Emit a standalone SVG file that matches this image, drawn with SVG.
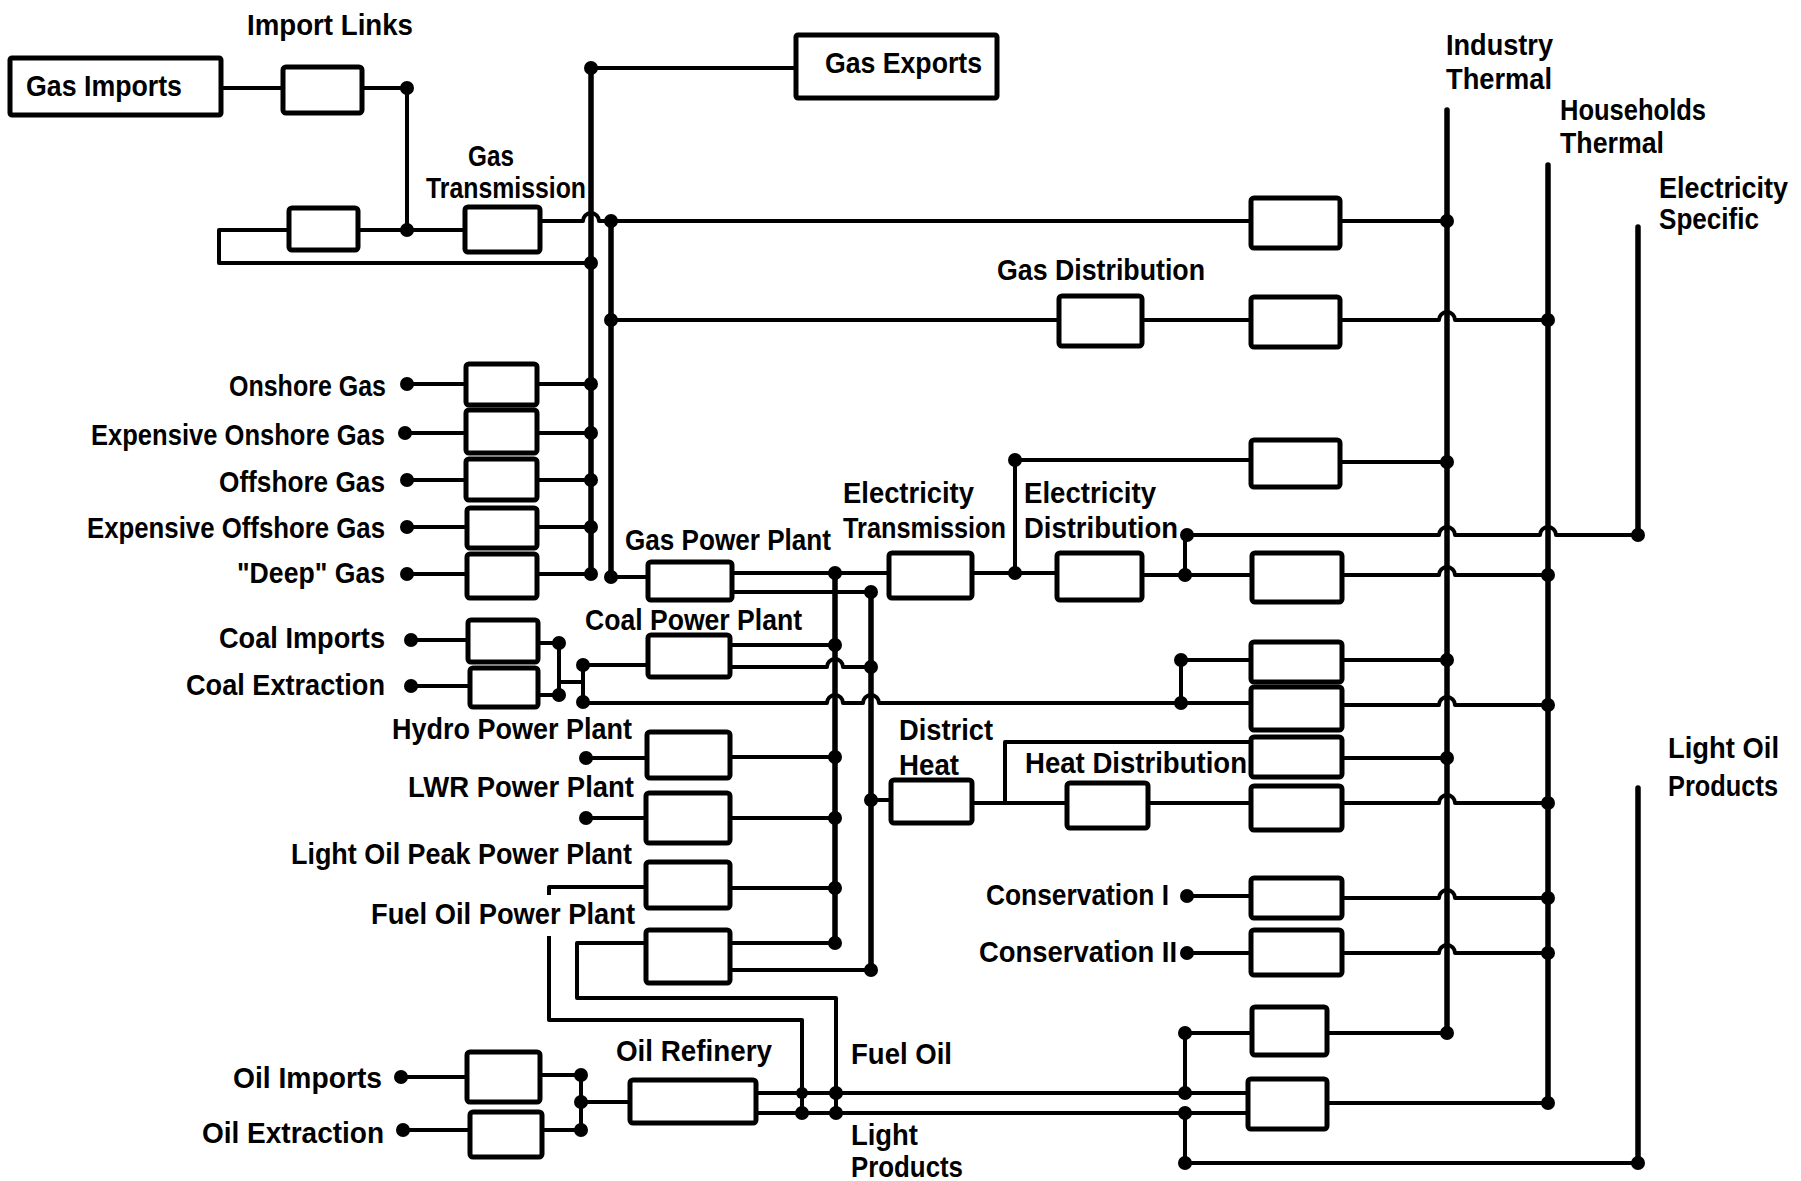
<svg xmlns="http://www.w3.org/2000/svg" width="1801" height="1181" viewBox="0 0 1801 1181">
<style>
.bx{fill:#fff;stroke:#000;stroke-width:5;stroke-linejoin:round}
.ln{fill:none;stroke:#000;stroke-width:4;stroke-linejoin:round}
.bus{fill:none;stroke:#000;stroke-width:5.5;stroke-linecap:round}
.dot{fill:#000}
text{font-family:"Liberation Sans",Arial,sans-serif;font-weight:bold;font-size:30px;fill:#000}
</style>
<rect x="0" y="0" width="1801" height="1181" fill="#fff"/>
<g id="connectors">
<path class="ln" d="M221 88H283M362 88H407V230M289 230H219V263H591M358 230H465M540 221H583a8 8 0 0 1 16 0H611"/>
<path class="bus" d="M591 68V574M611 221V577M835 573V943M871 592V970M1447 110V1033M1548 165V1103M1638 227V535M1638 788V1163"/>
<path class="ln" d="M591 68H796"/>
<path class="ln" d="M611 221H1251M1340 221H1447"/>
<path class="ln" d="M611 320H1059M1142 320H1251M1340 320H1439a8 8 0 0 1 16 0H1548"/>
<path class="ln" d="M407 384H466M537 384H591M405 433H466M537 433H591M407 480H466M537 480H591M407 527H467M537 527H591M407 574H467M537 574H591"/>
<path class="ln" d="M611 577H648M732 573H889M732 592H871"/>
<path class="ln" d="M972 573H1057M1015 573V460H1251M1142 575H1252M1185 575V535H1439a8 8 0 0 1 16 0H1540a8 8 0 0 1 16 0H1638"/>
<path class="ln" d="M1340 462H1447M1342 575H1439a8 8 0 0 1 16 0H1548"/>
<path class="ln" d="M411 640H468M411 686H470M538 643H559V695H538M559 682H583M583 665V702M583 665H648M583 703H827a8 8 0 0 1 16 0H863a8 8 0 0 1 16 0H1251M1181 703V660H1251"/>
<path class="ln" d="M730 645H835M730 667H827a8 8 0 0 1 16 0H871"/>
<path class="ln" d="M586 758H647M730 757H835M586 818H646M730 818H835"/>
<path class="ln" d="M549 895V887H646M730 888H835M549 936V1020H802V1113"/>
<path class="ln" d="M646 943H577V998H836V1113M730 943H835M730 970H871"/>
<path class="ln" d="M871 800H891M972 803H1067M1148 803H1251M1005 803V742H1251"/>
<path class="ln" d="M1342 660H1447M1342 705H1439a8 8 0 0 1 16 0H1548M1342 758H1447M1342 803H1439a8 8 0 0 1 16 0H1548"/>
<path class="ln" d="M1187 896H1251M1342 898H1439a8 8 0 0 1 16 0H1548M1187 953H1251M1342 953H1439a8 8 0 0 1 16 0H1548"/>
<path class="ln" d="M401 1077H467M540 1075H581M403 1130H470M542 1130H581M581 1075V1130M581 1102H630"/>
<path class="ln" d="M756 1093H1248M756 1113H1248M1185 1033H1252M1185 1033V1093M1185 1113V1163H1638M1327 1033H1447M1327 1103H1548"/>
<g class="dot">
<circle cx="407" cy="88" r="7"/><circle cx="407" cy="230" r="7"/><circle cx="591" cy="68" r="7"/><circle cx="591" cy="263" r="7"/>
<circle cx="611" cy="221" r="7"/><circle cx="611" cy="320" r="7"/><circle cx="611" cy="577" r="7"/>
<circle cx="591" cy="384" r="7"/><circle cx="591" cy="433" r="7"/><circle cx="591" cy="480" r="7"/><circle cx="591" cy="527" r="7"/><circle cx="591" cy="574" r="7"/>
<circle cx="407" cy="384" r="7"/><circle cx="405" cy="433" r="7"/><circle cx="407" cy="480" r="7"/><circle cx="407" cy="527" r="7"/><circle cx="407" cy="574" r="7"/>
<circle cx="411" cy="640" r="7"/><circle cx="411" cy="686" r="7"/><circle cx="559" cy="643" r="7"/><circle cx="559" cy="695" r="7"/><circle cx="583" cy="665" r="7"/><circle cx="583" cy="702" r="7"/>
<circle cx="586" cy="758" r="7"/><circle cx="586" cy="818" r="7"/>
<circle cx="835" cy="573" r="7"/><circle cx="835" cy="645" r="7"/><circle cx="835" cy="757" r="7"/><circle cx="835" cy="818" r="7"/><circle cx="835" cy="888" r="7"/><circle cx="835" cy="943" r="7"/>
<circle cx="871" cy="592" r="7"/><circle cx="871" cy="667" r="7"/><circle cx="871" cy="800" r="7"/><circle cx="871" cy="970" r="7"/>
<circle cx="1015" cy="573" r="7"/><circle cx="1015" cy="460" r="7"/><circle cx="1185" cy="575" r="7"/><circle cx="1187" cy="535" r="7"/>
<circle cx="1181" cy="660" r="7"/><circle cx="1181" cy="703" r="7"/><circle cx="1187" cy="896" r="7"/><circle cx="1187" cy="953" r="7"/>
<circle cx="401" cy="1077" r="7"/><circle cx="403" cy="1130" r="7"/><circle cx="581" cy="1075" r="7"/><circle cx="581" cy="1102" r="7"/><circle cx="581" cy="1130" r="7"/>
<circle cx="802" cy="1093" r="6"/><circle cx="802" cy="1113" r="7"/><circle cx="836" cy="1093" r="7"/><circle cx="836" cy="1113" r="7"/>
<circle cx="1185" cy="1033" r="7"/><circle cx="1185" cy="1093" r="7"/><circle cx="1185" cy="1113" r="7"/><circle cx="1185" cy="1163" r="7"/>
<circle cx="1447" cy="221" r="7"/><circle cx="1447" cy="462" r="7"/><circle cx="1447" cy="660" r="7"/><circle cx="1447" cy="758" r="7"/><circle cx="1447" cy="1033" r="7"/>
<circle cx="1548" cy="320" r="7"/><circle cx="1548" cy="575" r="7"/><circle cx="1548" cy="705" r="7"/><circle cx="1548" cy="803" r="7"/><circle cx="1548" cy="898" r="7"/><circle cx="1548" cy="953" r="7"/><circle cx="1548" cy="1103" r="7"/>
<circle cx="1638" cy="535" r="7"/><circle cx="1638" cy="1163" r="7"/>
</g>
</g>
<g id="gas-imports"><rect class="bx" x="10" y="58" width="211" height="57" rx="2"/><text x="26" y="96" textLength="156" lengthAdjust="spacingAndGlyphs">Gas Imports</text></g>
<g id="import-links"><rect class="bx" x="283" y="67" width="79" height="46" rx="3"/><text x="247" y="35" textLength="166" lengthAdjust="spacingAndGlyphs">Import Links</text></g>
<g id="gas-storage"><rect class="bx" x="289" y="208" width="69" height="42" rx="3"/></g>
<g id="gas-transmission"><rect class="bx" x="465" y="207" width="75" height="45" rx="3"/><text x="468" y="166" textLength="46" lengthAdjust="spacingAndGlyphs">Gas</text><text x="426" y="198" textLength="160" lengthAdjust="spacingAndGlyphs">Transmission</text></g>
<g id="gas-exports"><rect class="bx" x="796" y="35" width="201" height="63" rx="2"/><text x="825" y="73" textLength="157" lengthAdjust="spacingAndGlyphs">Gas Exports</text></g>
<g id="onshore-gas"><rect class="bx" x="466" y="364" width="71" height="41" rx="3"/><text x="229" y="396" textLength="157" lengthAdjust="spacingAndGlyphs">Onshore Gas</text></g>
<g id="expensive-onshore-gas"><rect class="bx" x="466" y="410" width="71" height="43" rx="3"/><text x="91" y="445" textLength="294" lengthAdjust="spacingAndGlyphs">Expensive Onshore Gas</text></g>
<g id="offshore-gas"><rect class="bx" x="466" y="459" width="71" height="41" rx="3"/><text x="219" y="492" textLength="166" lengthAdjust="spacingAndGlyphs">Offshore Gas</text></g>
<g id="expensive-offshore-gas"><rect class="bx" x="467" y="508" width="70" height="40" rx="3"/><text x="87" y="538" textLength="298" lengthAdjust="spacingAndGlyphs">Expensive Offshore Gas</text></g>
<g id="deep-gas"><rect class="bx" x="467" y="554" width="70" height="44" rx="3"/><text x="237" y="583" textLength="148" lengthAdjust="spacingAndGlyphs">"Deep" Gas</text></g>
<g id="coal-imports"><rect class="bx" x="468" y="620" width="70" height="42" rx="3"/><text x="219" y="648" textLength="166" lengthAdjust="spacingAndGlyphs">Coal Imports</text></g>
<g id="coal-extraction"><rect class="bx" x="470" y="668" width="68" height="39" rx="3"/><text x="186" y="695" textLength="199" lengthAdjust="spacingAndGlyphs">Coal Extraction</text></g>
<g id="gas-power-plant"><rect class="bx" x="648" y="562" width="84" height="38" rx="3"/><text x="625" y="550" textLength="206" lengthAdjust="spacingAndGlyphs">Gas Power Plant</text></g>
<g id="coal-power-plant"><rect class="bx" x="648" y="635" width="82" height="42" rx="3"/><text x="585" y="630" textLength="217" lengthAdjust="spacingAndGlyphs">Coal Power Plant</text></g>
<g id="hydro-power-plant"><rect class="bx" x="647" y="732" width="83" height="46" rx="3"/><text x="392" y="739" textLength="240" lengthAdjust="spacingAndGlyphs">Hydro Power Plant</text></g>
<g id="lwr-power-plant"><rect class="bx" x="646" y="793" width="84" height="50" rx="3"/><text x="408" y="797" textLength="226" lengthAdjust="spacingAndGlyphs">LWR Power Plant</text></g>
<g id="light-oil-peak-power-plant"><rect class="bx" x="646" y="862" width="84" height="46" rx="3"/><text x="291" y="864" textLength="341" lengthAdjust="spacingAndGlyphs">Light Oil Peak Power Plant</text></g>
<g id="fuel-oil-power-plant"><rect class="bx" x="646" y="930" width="84" height="53" rx="3"/><text x="371" y="924" textLength="264" lengthAdjust="spacingAndGlyphs">Fuel Oil Power Plant</text></g>
<g id="electricity-transmission"><rect class="bx" x="889" y="553" width="83" height="45" rx="3"/><text x="843" y="503" textLength="131" lengthAdjust="spacingAndGlyphs">Electricity</text><text x="843" y="538" textLength="163" lengthAdjust="spacingAndGlyphs">Transmission</text></g>
<g id="electricity-distribution"><rect class="bx" x="1057" y="553" width="85" height="47" rx="3"/><text x="1024" y="503" textLength="132" lengthAdjust="spacingAndGlyphs">Electricity</text><text x="1024" y="538" textLength="154" lengthAdjust="spacingAndGlyphs">Distribution</text></g>
<g id="district-heat"><rect class="bx" x="891" y="780" width="81" height="43" rx="3"/><text x="899" y="740" textLength="94" lengthAdjust="spacingAndGlyphs">District</text><text x="899" y="775" textLength="60" lengthAdjust="spacingAndGlyphs">Heat</text></g>
<g id="heat-distribution"><rect class="bx" x="1067" y="783" width="81" height="45" rx="3"/><text x="1025" y="773" textLength="222" lengthAdjust="spacingAndGlyphs">Heat Distribution</text></g>
<g id="gas-distribution"><rect class="bx" x="1059" y="296" width="83" height="50" rx="3"/><text x="997" y="280" textLength="208" lengthAdjust="spacingAndGlyphs">Gas Distribution</text></g>
<g id="conservation-1"><text x="986" y="905" textLength="183" lengthAdjust="spacingAndGlyphs">Conservation I</text></g>
<g id="conservation-2"><text x="979" y="962" textLength="198" lengthAdjust="spacingAndGlyphs">Conservation II</text></g>
<g id="oil-imports"><rect class="bx" x="467" y="1052" width="73" height="50" rx="3"/><text x="233" y="1088" textLength="149" lengthAdjust="spacingAndGlyphs">Oil Imports</text></g>
<g id="oil-extraction"><rect class="bx" x="470" y="1112" width="72" height="45" rx="3"/><text x="202" y="1143" textLength="182" lengthAdjust="spacingAndGlyphs">Oil Extraction</text></g>
<g id="oil-refinery"><rect class="bx" x="630" y="1080" width="126" height="43" rx="3"/><text x="616" y="1061" textLength="156" lengthAdjust="spacingAndGlyphs">Oil Refinery</text></g>
<g id="fuel-oil-label"><text x="851" y="1064" textLength="101" lengthAdjust="spacingAndGlyphs">Fuel Oil</text></g>
<g id="light-products-label"><text x="851" y="1145" textLength="67" lengthAdjust="spacingAndGlyphs">Light</text><text x="851" y="1177" textLength="112" lengthAdjust="spacingAndGlyphs">Products</text></g>
<g id="industry-thermal"><text x="1446" y="55" textLength="107" lengthAdjust="spacingAndGlyphs">Industry</text><text x="1446" y="89" textLength="106" lengthAdjust="spacingAndGlyphs">Thermal</text></g>
<g id="households-thermal"><text x="1560" y="120" textLength="146" lengthAdjust="spacingAndGlyphs">Households</text><text x="1560" y="153" textLength="104" lengthAdjust="spacingAndGlyphs">Thermal</text></g>
<g id="electricity-specific"><text x="1659" y="198" textLength="129" lengthAdjust="spacingAndGlyphs">Electricity</text><text x="1659" y="229" textLength="100" lengthAdjust="spacingAndGlyphs">Specific</text></g>
<g id="light-oil-products"><text x="1668" y="758" textLength="111" lengthAdjust="spacingAndGlyphs">Light Oil</text><text x="1668" y="796" textLength="110" lengthAdjust="spacingAndGlyphs">Products</text></g>
<g id="ind-gas"><rect class="bx" x="1251" y="198" width="89" height="50" rx="3"/></g>
<g id="hh-gas"><rect class="bx" x="1251" y="297" width="89" height="50" rx="3"/></g>
<g id="ind-elec"><rect class="bx" x="1251" y="440" width="89" height="47" rx="3"/></g>
<g id="hh-elec"><rect class="bx" x="1252" y="553" width="90" height="49" rx="3"/></g>
<g id="ind-coal"><rect class="bx" x="1251" y="642" width="91" height="40" rx="3"/></g>
<g id="hh-coal"><rect class="bx" x="1251" y="687" width="91" height="43" rx="3"/></g>
<g id="ind-heat"><rect class="bx" x="1251" y="737" width="91" height="40" rx="3"/></g>
<g id="hh-heat"><rect class="bx" x="1251" y="786" width="91" height="44" rx="3"/></g>
<g id="hh-cons-1"><rect class="bx" x="1251" y="878" width="91" height="40" rx="3"/></g>
<g id="hh-cons-2"><rect class="bx" x="1251" y="930" width="91" height="45" rx="3"/></g>
<g id="ind-oil"><rect class="bx" x="1252" y="1007" width="75" height="48" rx="3"/></g>
<g id="hh-oil"><rect class="bx" x="1248" y="1079" width="79" height="50" rx="3"/></g>
</svg>
